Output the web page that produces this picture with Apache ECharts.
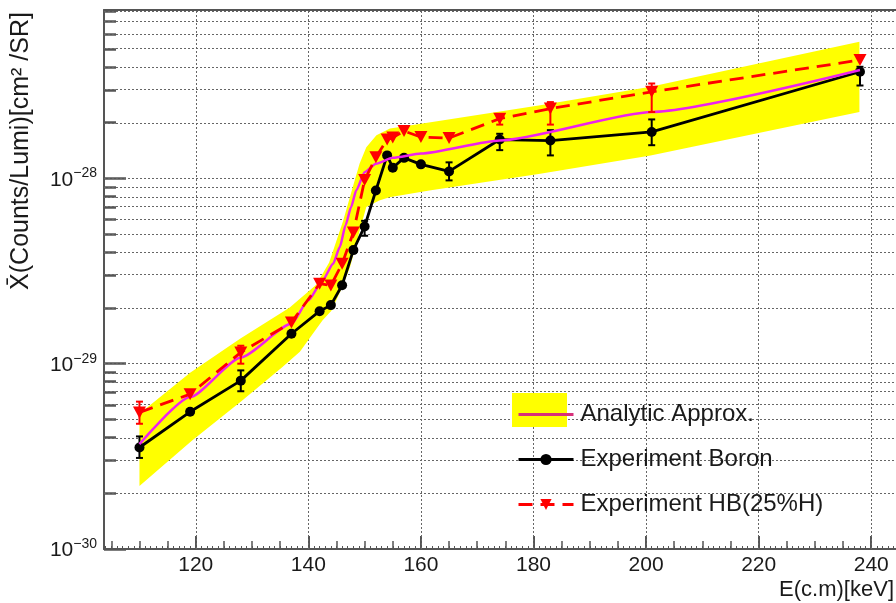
<!DOCTYPE html>
<html>
<head>
<meta charset="utf-8">
<script src="https://cdn.jsdelivr.net/npm/echarts@6/dist/echarts.min.js"></script>
<style>
html, body { margin: 0; padding: 0; background: #fff; }
#main { width: 896px; height: 603px; }
</style>
</head>
<body>
<div id="main"></div>
<script>
// measured points, E(c.m) in keV
const energies = [110, 119, 128, 137, 142, 144, 146, 148, 150, 152, 154, 155, 157, 160, 165, 174, 183, 201, 238];
const boron = [3.53e-30, 5.5e-30, 8.1e-30, 1.45e-29, 1.92e-29, 2.07e-29, 2.65e-29, 4.1e-29, 5.5e-29, 8.6e-29,
               1.33e-28, 1.14e-28, 1.29e-28, 1.19e-28, 1.09e-28, 1.62e-28, 1.60e-28, 1.78e-28, 3.76e-28];
const hb = [5.46e-30, 6.85e-30, 1.15e-29, 1.67e-29, 2.70e-29, 2.64e-29, 3.46e-29, 5.1e-29, 9.8e-29, 1.30e-28,
            1.62e-28, 1.66e-28, 1.80e-28, 1.67e-28, 1.65e-28, 2.10e-28, 2.38e-28, 2.93e-28, 4.35e-28];

// error bars (only the visible ones)
const boronErrE = [110, 128, 150, 165, 174, 183, 201, 238];
const boronErrLo = [3.1e-30, 7.1e-30, 4.9e-29, 9.75e-29, 1.42e-28, 1.33e-28, 1.51e-28, 3.17e-28];
const boronErrHi = [4.05e-30, 9.2e-30, 5.9e-29, 1.22e-28, 1.74e-28, 1.82e-28, 2.08e-28, 4.0e-28];
const hbErrE = [110, 128, 174, 183, 201];
const hbErrLo = [4.74e-30, 1.0e-29, 1.95e-28, 1.95e-28, 2.28e-28];
const hbErrHi = [6.24e-30, 1.25e-29, 2.2e-28, 2.58e-28, 3.25e-28];

// analytic approximation
const anaE = [110, 119, 128, 137, 140, 142.5, 144.4, 145.6, 146.6, 147.6, 148.5, 150, 152, 155, 160, 174, 201, 238];
const ana = [3.68e-30, 6.6e-30, 1.08e-29, 1.64e-29, 2.2e-29, 2.8e-29, 3.46e-29, 4.26e-29, 5.57e-29, 7.0e-29,
             8.6e-29, 1.08e-28, 1.2e-28, 1.29e-28, 1.36e-28, 1.60e-28, 2.28e-28, 3.84e-28];
// its uncertainty band: upper and lower edges
const bandHiE = [110, 119, 127.8, 136.7, 141.4, 143.7, 146.2, 147.9, 149.1, 150.3, 152.1, 154.5, 158, 181.2, 200.8, 237.9];
const bandHi = [5.37e-30, 8.93e-30, 1.36e-29, 2.01e-29, 2.67e-29, 3.52e-29, 5.93e-29, 8.97e-29, 1.2e-28, 1.47e-28,
                1.71e-28, 1.86e-28, 1.93e-28, 2.48e-28, 3.12e-28, 5.46e-28];
const bandLoE = [110, 119.3, 128.2, 135.3, 138.5, 140.8, 142.5, 144.1, 145.9, 147.4, 148.2, 149.1, 150.3, 152.6, 154.4,
                 161.5, 181.2, 200.8, 237.9];
const bandLo = [2.19e-30, 3.84e-30, 6.3e-30, 9.55e-30, 1.16e-29, 1.45e-29, 1.71e-29, 1.93e-29, 2.54e-29, 3.31e-29,
                4.08e-29, 5.2e-29, 7.0e-29, 7.6e-29, 7.9e-29, 8.6e-29, 1.06e-28, 1.33e-28, 2.28e-28];

// axes
const xLabels = [120, 140, 160, 180, 200, 220, 240];
const yDecades = [1e-30, 1e-29, 1e-28];
const xMin = 103.7, xMax = 244.4;
const yMin = 1e-30, yMax = 8.1e-28;

const font = 'Liberation Sans, Arial, Helvetica, sans-serif';
const axisColor = '#555';
const textColor = '#1a1a1a';

// grid and tick positions in decades, for the helper axes
const yMajorExp = yDecades.map(d => Math.round(Math.log10(d)));
const yGridExp = [];
yDecades.forEach(d => {
    for (let k = 1; k <= 9; k++) {
        const v = d * k;
        if (v > yMin * 1.01 && v < yMax) yGridExp.push(Math.log10(v));
    }
});
const yMinorExp = yGridExp.filter(e => Math.abs(e - Math.round(e)) > 0.01);
const x5 = [], x1 = [];
for (let e = 105; e <= 240; e += 5) x5.push(e);
for (let e = 104; e <= 244; e++) x1.push(e);

const pairs = (xs, ys) => xs.map((x, i) => [x, ys[i]]);
const errData = (xs, lo, hi) => xs.map((x, i) => [x, lo[i], hi[i]]);
const bandRing = pairs(bandHiE, bandHi).concat(pairs(bandLoE, bandLo).reverse());

function errorBars(color) {
    return function (params, api) {
        const x = api.value(0);
        const a = api.coord([x, api.value(1)]);
        const b = api.coord([x, api.value(2)]);
        const w = 3.5;
        const st = { stroke: color, lineWidth: 2 };
        return {
            type: 'group',
            children: [
                { type: 'line', shape: { x1: a[0], y1: a[1], x2: b[0], y2: b[1] }, style: st },
                { type: 'line', shape: { x1: a[0] - w, y1: a[1], x2: a[0] + w, y2: a[1] }, style: st },
                { type: 'line', shape: { x1: b[0] - w, y1: b[1], x2: b[0] + w, y2: b[1] }, style: st }
            ]
        };
    };
}

function bandPolygon(params, api) {
    if (params.dataIndexInside !== 0) return null;
    const pts = [];
    for (let i = 0; i < params.dataInsideLength; i++) {
        pts.push(api.coord([api.value(0, i), api.value(1, i)]));
    }
    return { type: 'polygon', shape: { points: pts }, style: { fill: '#ffff00' } };
}

const gridLines = yGridExp.map(v => ({ yAxis: v })).concat(xLabels.map(v => ({ xAxis: v })));

let myChart = echarts.init(document.getElementById('main'));
let option = {
    animation: false,
    backgroundColor: '#fff',
    grid: { left: 104, top: 10, right: 0, bottom: 54, outerBoundsMode: 'none' },
    xAxis: [
        {
            type: 'value', min: xMin, max: xMax, position: 'bottom',
            axisLine: { lineStyle: { color: axisColor, width: 2 } },
            axisTick: { inside: true, length: 13, customValues: xLabels, lineStyle: { color: axisColor, width: 2 } },
            axisLabel: { customValues: xLabels, margin: 6, fontFamily: font, fontSize: 21, color: textColor },
            splitLine: { show: false }
        },
        {
            type: 'value', min: xMin, max: xMax, position: 'bottom',
            axisLine: { show: false },
            axisTick: { inside: true, length: 8, customValues: x5, lineStyle: { color: axisColor, width: 1.5 } },
            axisLabel: { show: false }, splitLine: { show: false }
        },
        {
            type: 'value', min: xMin, max: xMax, position: 'bottom',
            axisLine: { show: false },
            axisTick: { inside: true, length: 3, customValues: x1, lineStyle: { color: axisColor, width: 1 } },
            axisLabel: { show: false }, splitLine: { show: false }
        },
        {
            type: 'value', min: xMin, max: xMax, position: 'top',
            axisLine: { lineStyle: { color: axisColor, width: 2 } },
            axisTick: { show: false }, axisLabel: { show: false }, splitLine: { show: false }
        }
    ],
    yAxis: [
        {
            // data axis
            type: 'log', logBase: 10, min: yMin, max: yMax, position: 'left',
            axisLine: { show: true, lineStyle: { color: axisColor, width: 2 } },
            axisTick: { show: false }, axisLabel: { show: false }, splitLine: { show: false }
        },
        {
            // same range in decades: major ticks and 10^n labels
            type: 'value', min: Math.log10(yMin), max: Math.log10(yMax), position: 'left',
            axisLine: { show: false },
            axisTick: { inside: true, length: 22, customValues: yMajorExp, lineStyle: { color: axisColor, width: 2.5 } },
            axisLabel: {
                customValues: yMajorExp, margin: 7,
                formatter: v => '{b|10}{s|' + String(v).replace('-', '\u2212') + '}',
                rich: {
                    b: { fontFamily: font, fontSize: 21, color: textColor, lineHeight: 24, verticalAlign: 'bottom' },
                    s: { fontFamily: font, fontSize: 14, color: textColor, lineHeight: 12, verticalAlign: 'top' }
                }
            },
            splitLine: { show: false }
        },
        {
            // minor ticks
            type: 'value', min: Math.log10(yMin), max: Math.log10(yMax), position: 'left',
            axisLine: { show: false },
            axisTick: { inside: true, length: 12, customValues: yMinorExp, lineStyle: { color: axisColor, width: 2.5 } },
            axisLabel: { show: false }, splitLine: { show: false }
        }
    ],
    legend: {
        left: 512, top: 397, orient: 'vertical',
        itemWidth: 55, itemHeight: 14, itemGap: 20,
        selectedMode: false,
        textStyle: { fontFamily: font, fontSize: 24, color: textColor, lineHeight: 25, padding: [0, 0, 0, 2] },
        data: [
            { name: 'Analytic Approx.', itemStyle: { opacity: 0 }, lineStyle: { color: '#d8307a', width: 3 } },
            { name: 'Experiment Boron', lineStyle: { width: 3 } },
            { name: 'Experiment HB(25%H)', lineStyle: { width: 3 } }
        ]
    },
    graphic: [
        { type: 'rect', z: 3, shape: { x: 512, y: 393, width: 55, height: 34 }, style: { fill: '#ffff00' } },
        {
            type: 'text', x: 21, y: 151, rotation: Math.PI / 2,
            style: {
                text: 'X\u0304(Counts/Lumi)[cm\u00b2 /SR]', fill: textColor,
                font: '25px ' + font, textAlign: 'center', textVerticalAlign: 'middle'
            }
        },
        {
            type: 'text', x: 894, y: 590,
            style: {
                text: 'E(c.m)[keV]', fill: textColor,
                font: '22px ' + font, textAlign: 'right', textVerticalAlign: 'middle'
            }
        }
    ],
    series: [
        {
            name: 'grid', type: 'line', yAxisIndex: 1, silent: true,
            data: [[xMin, Math.log10(yMin)]], symbol: 'none',
            lineStyle: { opacity: 0 },
            markLine: {
                z: 1, silent: true, symbol: 'none', label: { show: false },
                lineStyle: { color: '#666', width: 1, type: [2, 2] },
                data: gridLines
            }
        },
        {
            name: 'band', type: 'custom', z: 2, silent: true,
            data: bandRing,
            encode: { x: 0, y: 1 },
            renderItem: bandPolygon
        },
        {
            name: 'Experiment Boron', type: 'line', z: 4,
            data: pairs(energies, boron),
            color: '#000',
            symbol: 'circle', symbolSize: 10,
            lineStyle: { color: '#000', width: 2.8 },
            itemStyle: { color: '#000' }
        },
        {
            name: 'boron err', type: 'custom', z: 4, silent: true,
            data: errData(boronErrE, boronErrLo, boronErrHi),
            encode: { x: 0, y: [1, 2] },
            renderItem: errorBars('#000')
        },
        {
            name: 'Analytic Approx.', type: 'line', z: 5,
            data: pairs(anaE, ana),
            color: '#ee22ee',
            symbol: 'none', smooth: 0.2, smoothMonotone: 'x',
            lineStyle: { color: '#ee22ee', width: 2.5 }
        },
        {
            name: 'Experiment HB(25%H)', type: 'line', z: 6,
            data: pairs(energies, hb),
            color: '#ff0000',
            symbol: 'path://M0,0L10,0L5,9Z', symbolSize: [13, 12],
            lineStyle: { color: '#ff0000', width: 2.8, type: [14, 8] },
            itemStyle: { color: '#ff0000' }
        },
        {
            name: 'hb err', type: 'custom', z: 6, silent: true,
            data: errData(hbErrE, hbErrLo, hbErrHi),
            encode: { x: 0, y: [1, 2] },
            renderItem: errorBars('#ff0000')
        }
    ]
};
myChart.setOption(option);
</script>
</body>
</html>
